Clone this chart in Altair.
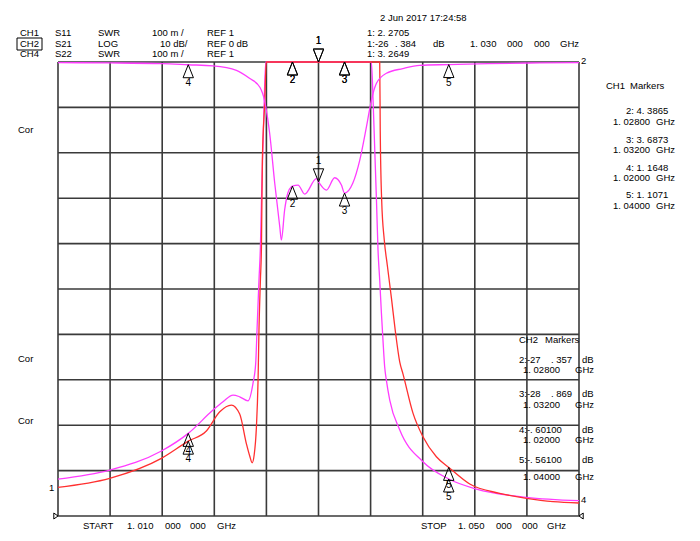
import altair as alt
import pandas as pd

# ---------------- data ----------------
# CH2  S21  LOG 10 dB/div, REF 0 dB (top)
s21_f = [1.0100, 1.0140, 1.0180, 1.0200, 1.0219, 1.0237, 1.0247, 1.0255, 1.02587,
         1.02625, 1.02664, 1.02703, 1.02715, 1.02740, 1.02764, 1.02792, 1.0280,
         1.02843, 1.02894, 1.02984, 1.0300, 1.03061, 1.03124, 1.03176, 1.0320,
         1.03263, 1.03317, 1.03368, 1.03406, 1.03445, 1.03521, 1.03647, 1.03777,
         1.0400, 1.0430, 1.0470, 1.0500]
s21_db = [-0.15, -0.2, -0.35, -0.601, -0.85, -1.83, -3.59, -5.57, -8.65,
          -15.7, -26.7, -36.4, -39.2, -32.6, -28.9, -27.5, -27.357,
          -27.1, -29.1, -25.7, -26.384, -28.2, -25.5, -27.1, -28.869,
          -26.7, -21.6, -14.3, -8.43, -4.69, -2.49, -1.45, -0.73,
          -0.561, -0.35, -0.2, -0.15]

# CH1  S11  SWR 100 m/div, REF 1 (bottom)
ch1_f = [1.0100, 1.01397, 1.01794, 1.0200, 1.02139, 1.02242, 1.02331, 1.02395,
         1.02447, 1.02472, 1.02491, 1.02506, 1.02523, 1.02536, 1.02543, 1.02554,
         1.02562, 1.02569, 1.02587, 1.02599, 1.0270, 1.0280, 1.0300, 1.0320,
         1.0340, 1.03470, 1.03474, 1.03485, 1.03505, 1.03528, 1.03560, 1.03589,
         1.03624, 1.03649, 1.03726, 1.03802, 1.03905, 1.0400, 1.04161, 1.04391,
         1.04596, 1.04801, 1.0500]
ch1_swr = [1.0632, 1.0830, 1.1270, 1.1648, 1.1871, 1.2296, 1.2443, 1.2245,
           1.1585, 1.1321, 1.1173, 1.1343, 1.1937, 1.2994, 1.4094, 1.5195,
           1.5928, 1.7836, 1.9092, 2.05, 3.2, 4.3865, 2.2705, 3.6873,
           3.4, 2.3, 1.8497, 1.6956, 1.6078, 1.5528, 1.4799, 1.4094,
           1.3390, 1.3126, 1.2261, 1.1746, 1.1305, 1.1071, 1.0704, 1.0500,
           1.0390, 1.0315, 1.0286]

# CH4  S22  SWR 100 m/div, REF 1 (bottom)
ch4_f = [1.0100, 1.01397, 1.01794, 1.0200, 1.0219, 1.02267, 1.02344, 1.02395,
         1.02459, 1.02497, 1.02518, 1.02528, 1.02543, 1.02554, 1.02564, 1.02579,
         1.02595, 1.0270, 1.0280, 1.0300, 1.0320, 1.0335, 1.03406, 1.03419,
         1.03432, 1.03445, 1.03457, 1.03470, 1.03483, 1.03495, 1.03508, 1.03521,
         1.03547, 1.03624, 1.03802, 1.0400, 1.04212, 1.04596, 1.0500]
ch4_swr = [1.0814, 1.1013, 1.1431, 1.1820, 1.2333, 1.2516, 1.2663, 1.2626,
           1.2538, 1.2921, 1.3368, 1.4094, 1.5195, 1.5928, 1.7176, 1.8717,
           2.05, 3.1, 3.9, 3.2649, 3.3, 2.6, 2.02, 1.9157,
           1.8058, 1.6958, 1.5857, 1.5195, 1.4469, 1.3874, 1.3286, 1.2994,
           1.2553, 1.1893, 1.1195, 1.0815, 1.0594, 1.0412, 1.0337]

# markers
marker_ids = ["1", "2", "3", "4", "5"]
marker_f = [1.030, 1.028, 1.032, 1.020, 1.040]
ch1_marker_swr = [2.2705, 4.3865, 3.6873, 1.1648, 1.1071]
ch2_marker_db = [-26.384, -27.357, -28.869, -0.601, -0.561]
ch4_marker_swr = [3.2649, 3.9, 3.3, 1.182, 1.0815]

# graticule
x_grid = [1.010, 1.014, 1.018, 1.022, 1.026, 1.030, 1.034, 1.038, 1.042, 1.046, 1.050]
y_grid = [0, 1, 2, 3, 4, 5, 6, 7, 8, 9, 10]

# ---------------- layout / style ----------------
W, H = 521, 454
OX, OY = 58, 62
FONT = "Liberation Sans"
FS = 9.5
MAG = "#ff3cff"
RED = "#ff3030"
GRID = "#3a3a3a"

# annotation text: (text, abs x, abs y)
texts = [
    ("2 Jun 2017  17:24:58", 380, 18),
    ("CH1", 20, 33), ("S11", 55, 33), ("SWR", 98, 33), ("100 m /", 152, 33), ("REF 1", 207, 33),
    ("1: 2. 2705", 367, 33),
    ("CH2", 20, 44), ("S21", 55, 44), ("LOG", 98, 44), ("10 dB/", 160, 44), ("REF 0 dB", 207, 44),
    ("1:-26", 367, 44), (". 384", 395, 44), ("dB", 433, 44),
    ("1. 030", 470, 44), ("000", 507, 44), ("000", 534, 44), ("GHz", 560, 44),
    ("CH4", 20, 54), ("S22", 55, 54), ("SWR", 98, 54), ("100 m /", 152, 54), ("REF 1", 207, 54),
    ("1: 3. 2649", 367, 54),
    ("CH1", 606, 86), ("Markers", 630, 86),
    ("2: 4. 3865", 626, 111), ("1. 02800", 613, 122), ("GHz", 656, 122),
    ("3: 3. 6873", 626, 140), ("1. 03200", 613, 150), ("GHz", 656, 150),
    ("4: 1. 1648", 626, 168), ("1. 02000", 613, 178), ("GHz", 656, 178),
    ("5: 1. 1071", 626, 195), ("1. 04000", 613, 206), ("GHz", 656, 206),
    ("CH2", 519, 340), ("Markers", 545, 340),
    ("2:-27", 519, 360), (". 357", 551, 360), ("dB", 582, 360),
    ("1. 02800", 523, 370), ("GHz", 575, 370),
    ("3:-28", 519, 394), (". 869", 551, 394), ("dB", 582, 394),
    ("1. 03200", 523, 405), ("GHz", 575, 405),
    ("4:-. 60100", 519, 430), ("dB", 582, 430),
    ("1. 02000", 523, 440), ("GHz", 575, 440),
    ("5:-. 56100", 519, 460), ("dB", 582, 460),
    ("1. 04000", 523, 477), ("GHz", 575, 477),
    ("Cor", 18, 130), ("Cor", 18, 359), ("Cor", 18, 421),
    ("1", 49, 488), ("4", 581, 500), ("2", 581, 61),
    ("START", 83, 526), ("1. 010", 127, 526), ("000", 165, 526), ("000", 190, 526), ("GHz", 217, 526),
    ("STOP", 421, 526), ("1. 050", 458, 526), ("000", 496, 526), ("000", 522, 526), ("GHz", 547, 526),
]

# ---------------- build tables ----------------
s21 = pd.DataFrame({"f": s21_f, "div": [10 + v / 10 for v in s21_db]})
ch1 = pd.DataFrame({"f": ch1_f, "div": [(v - 1) / 0.1 for v in ch1_swr]})
ch4 = pd.DataFrame({"f": ch4_f, "div": [(v - 1) / 0.1 for v in ch4_swr]})

mk_rows = []
for i, mid in enumerate(marker_ids):
    mk_rows.append({"id": mid, "f": marker_f[i], "div": (ch1_marker_swr[i] - 1) / 0.1})
    mk_rows.append({"id": mid, "f": marker_f[i], "div": 10 + ch2_marker_db[i] / 10})
    mk_rows.append({"id": mid, "f": marker_f[i], "div": (ch4_marker_swr[i] - 1) / 0.1})
mk = pd.DataFrame(mk_rows)
mk_up = mk[mk["id"] != "1"]
mk_down = mk[mk["id"] == "1"]

txt = pd.DataFrame({"t": [t[0] for t in texts],
                    "px": [t[1] - OX for t in texts],
                    "py": [t[2] - OY for t in texts]})

X_SCALE = alt.Scale(domain=[1.010, 1.050], nice=False, zero=False)
Y_SCALE = alt.Scale(domain=[0, 10], nice=False, zero=False, clamp=True)


def xe():
    return alt.X("f:Q", scale=X_SCALE, axis=None)


def ye():
    return alt.Y("div:Q", scale=Y_SCALE, axis=None)


vgrid = alt.Chart(pd.DataFrame({"f": x_grid})).mark_rule(color=GRID, strokeWidth=1.6).encode(x=xe())
hgrid = alt.Chart(pd.DataFrame({"div": y_grid})).mark_rule(color=GRID, strokeWidth=1.6).encode(y=ye())

line4 = alt.Chart(ch4).mark_line(color=MAG, strokeWidth=1.3, interpolate="monotone").encode(x=xe(), y=ye())
line1 = alt.Chart(ch1).mark_line(color=RED, strokeWidth=1.3, interpolate="monotone").encode(x=xe(), y=ye())
line2 = alt.Chart(s21).mark_line(color=MAG, strokeWidth=1.3, interpolate="monotone").encode(x=xe(), y=ye())

UP = "M0,0L-0.8,2L0.8,2Z"
DOWN = "M0,0L-0.8,-2L0.8,-2Z"
m_up = alt.Chart(mk_up).mark_point(shape=UP, size=169, filled=False, color="black",
                                   strokeWidth=1, opacity=1).encode(x=xe(), y=ye())
m_down = alt.Chart(mk_down).mark_point(shape=DOWN, size=169, filled=False, color="black",
                                       strokeWidth=1, opacity=1).encode(x=xe(), y=ye())
l_up = alt.Chart(mk_up).mark_text(dy=18, font=FONT, fontSize=10, color="black").encode(
    x=xe(), y=ye(), text="id:N")
l_down = alt.Chart(mk_down).mark_text(dy=-21, font=FONT, fontSize=10, color="black").encode(
    x=xe(), y=ye(), text="id:N")

ref_df_l = pd.DataFrame({"f": [1.010], "div": [0]})
ref_df_r = pd.DataFrame({"f": [1.050], "div": [0]})
ref_l = alt.Chart(ref_df_l).mark_point(shape="M0,0L-1.4,-1L-1.4,1Z", size=36, filled=False,
                                       color="black", strokeWidth=1, opacity=1).encode(x=xe(), y=ye())
ref_r = alt.Chart(ref_df_r).mark_point(shape="M0,0L1.4,-1L1.4,1Z", size=36, filled=False,
                                       color="black", strokeWidth=1, opacity=1).encode(x=xe(), y=ye())

labels = alt.Chart(txt).mark_text(align="left", baseline="middle", font=FONT, fontSize=FS,
                                  color="black").encode(
    x=alt.X("px:Q", scale=None, axis=None),
    y=alt.Y("py:Q", scale=None, axis=None),
    text="t:N")

box = alt.Chart(pd.DataFrame({"x1": [17 - OX], "x2": [42 - OX], "y1": [38 - OY], "y2": [50 - OY]})).mark_rect(
    fill=None, stroke="black", strokeWidth=1).encode(
    x=alt.X("x1:Q", scale=None, axis=None), x2="x2:Q",
    y=alt.Y("y1:Q", scale=None, axis=None), y2="y2:Q")

chart = alt.layer(
    vgrid, hgrid, line4, line1, line2, m_up, m_down, l_up, l_down, ref_l, ref_r, labels, box
).resolve_scale(x="independent", y="independent").properties(
    width=W, height=H,
    autosize=alt.AutoSizeParams(type="none"),
    padding={"left": OX, "top": OY, "right": 700 - OX - W, "bottom": 541 - OY - H},
    background="white",
).configure_view(stroke=None)

chart.save("out.html", embed_options={"renderer": "svg", "actions": False})
